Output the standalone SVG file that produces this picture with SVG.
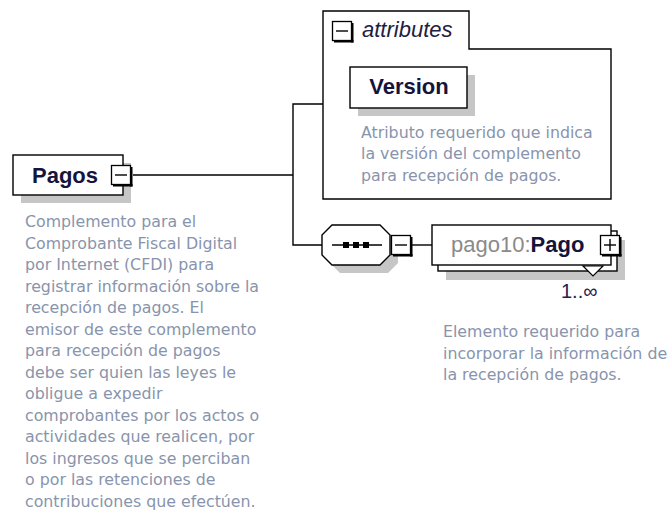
<svg xmlns="http://www.w3.org/2000/svg" xmlns:xlink="http://www.w3.org/1999/xlink" width="670" height="514" viewBox="0 0 670 514">
<style>
.box{fill:#fff;stroke:#000;stroke-width:1.4}
.shadow{fill:#c6c6c6;stroke:none}
.conn{fill:none;stroke:#000;stroke-width:1.4}
.desc{font-family:"DejaVu Sans",Verdana,sans-serif;font-size:15.8px;fill:#8894ac}
.name{font-family:"Liberation Sans",Arial,sans-serif;font-size:22px;font-weight:bold;fill:#14143c}
.ital{font-family:"Liberation Sans",Arial,sans-serif;font-size:22px;font-style:italic;fill:#202040}
.ns{font-family:"Liberation Sans",Arial,sans-serif;font-size:22px;fill:#8a8a8a}
.mult{font-family:"Liberation Sans",Arial,sans-serif;font-size:20px;fill:#2a2050}
</style>
<defs>
<g id="btnbase">
<rect x="0.5" y="0.5" width="19" height="19" fill="#fff" stroke="#000" stroke-width="1.3"/>
<rect x="19" y="2" width="2.5" height="19.5" fill="#000"/>
<rect x="2" y="19" width="19.5" height="2.5" fill="#000"/>
<line x1="4" y1="10" x2="16" y2="10" stroke="#000" stroke-width="1.4"/>
</g>
<g id="minus"><use xlink:href="#btnbase"/></g>
<g id="plus"><use xlink:href="#btnbase"/><line x1="10" y1="4" x2="10" y2="16" stroke="#000" stroke-width="1.4"/></g>
</defs>

<g id="connectors">
<polyline class="conn" points="133,175 293,175"/>
<polyline class="conn" points="323,104 293,104 293,245 322,245"/>
<polyline class="conn" points="412,245 432,245"/>
</g>

<g id="node-pagos">
<rect class="shadow" x="21" y="163" width="110" height="40"/>
<rect class="box" x="13" y="155" width="110" height="40"/>
<text class="name" x="32" y="183">Pagos</text>
<use xlink:href="#minus" transform="translate(111,165)"/>
<text class="desc"><tspan x="25" y="227">Complemento para el</tspan><tspan x="25" dy="21.5">Comprobante Fiscal Digital</tspan><tspan x="25" dy="21.5">por Internet (CFDI) para</tspan><tspan x="25" dy="21.5">registrar información sobre la</tspan><tspan x="25" dy="21.5">recepción de pagos. El</tspan><tspan x="25" dy="21.5">emisor de este complemento</tspan><tspan x="25" dy="21.5">para recepción de pagos</tspan><tspan x="25" dy="21.5">debe ser quien las leyes le</tspan><tspan x="25" dy="21.5">obligue a expedir</tspan><tspan x="25" dy="21.5">comprobantes por los actos o</tspan><tspan x="25" dy="21.5">actividades que realicen, por</tspan><tspan x="25" dy="21.5">los ingresos que se perciban</tspan><tspan x="25" dy="21.5">o por las retenciones de</tspan><tspan x="25" dy="21.5">contribuciones que efectúen.</tspan></text>
</g>

<g id="node-attributes">
<path class="box" d="M323,199 V11 H469 V49 H611 V199 Z"/>
<use xlink:href="#minus" transform="translate(332,21)"/>
<text class="ital" x="362" y="37">attributes</text>
</g>

<g id="node-version">
<rect class="shadow" x="358" y="75" width="117" height="41"/>
<rect class="box" x="350" y="67" width="117" height="41"/>
<text class="name" x="409" y="94" text-anchor="middle">Version</text>
<text class="desc"><tspan x="361" y="137.5">Atributo requerido que indica</tspan><tspan x="361" dy="21.5">la versión del complemento</tspan><tspan x="361" dy="21.5">para recepción de pagos.</tspan></text>
</g>

<g id="node-sequence">
<polygon class="shadow" points="340,233 388,233 398,243 398,263 388,273 340,273 330,263 330,243"/>
<polygon class="box" points="332,225 380,225 390,235 390,255 380,265 332,265 322,255 322,235"/>
<line x1="332" y1="245" x2="382" y2="245" stroke="#000" stroke-width="1.4"/>
<rect x="343" y="242" width="6" height="6" fill="#000"/>
<rect x="353" y="242" width="6" height="6" fill="#000"/>
<rect x="363" y="242" width="6" height="6" fill="#000"/>
<use xlink:href="#minus" transform="translate(391,235)"/>
</g>

<g id="node-pago">
<rect class="shadow" x="446" y="240" width="179" height="40"/>
<rect class="box" x="438" y="231" width="179" height="40"/>
<rect class="box" x="432" y="225" width="179" height="40"/>
<polygon points="583,266 593,276 603,266" fill="#fff" stroke="#000" stroke-width="1.2"/>
<text x="451" y="252"><tspan class="ns">pago10:</tspan><tspan class="name">Pago</tspan></text>
<use xlink:href="#plus" transform="translate(600,235)"/>
<text class="mult" x="561" y="298">1..∞</text>
<text class="desc"><tspan x="443" y="337">Elemento requerido para</tspan><tspan x="443" dy="21.5">incorporar la información de</tspan><tspan x="443" dy="21.5">la recepción de pagos.</tspan></text>
</g>
</svg>
